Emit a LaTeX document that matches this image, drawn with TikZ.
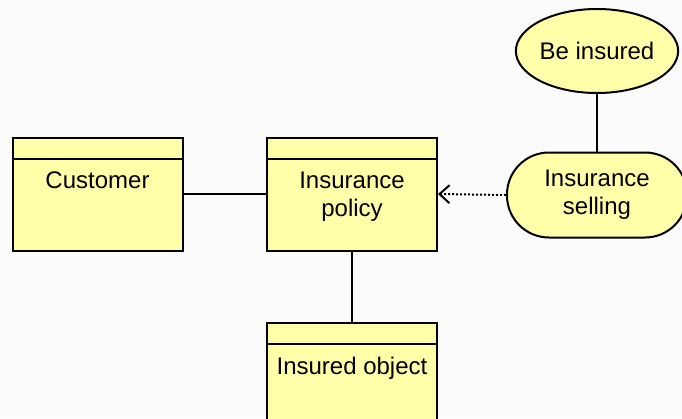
\documentclass[tikz,border=0pt]{standalone}
\usepackage{fontspec}
\setmainfont{Liberation Sans}
\usetikzlibrary{arrows.meta,calc,shapes.geometric}
\definecolor{bgc}{RGB}{251,251,251}
\definecolor{boxfill}{RGB}{255,255,170}
\tikzset{
  entity/.style={draw=black, line width=2pt, fill=boxfill, rectangle, minimum width=170pt, minimum height=113pt, inner sep=0pt},
  txt/.style={font=\fontsize{24}{28}\selectfont, align=center, inner sep=0pt},
  usecase/.style={draw=black, line width=2pt, fill=boxfill, ellipse, minimum width=148pt, minimum height=84pt, inner sep=0pt, font=\fontsize{24}{28}\selectfont},
  process/.style={draw=black, line width=2pt, fill=boxfill, rectangle, rounded corners=42pt, minimum width=180pt, minimum height=85pt, inner sep=0pt, align=center, font=\fontsize{24}{28}\selectfont},
  conn/.style={draw=black, line width=2pt},
  dep/.style={draw=black, line width=2pt, dotted, -{Straight Barb[length=10pt,width=18pt,line width=2pt]}}
}
\begin{document}
\begin{tikzpicture}[x=1pt,y=-1pt]
\useasboundingbox (0,0) rectangle (682,418);
\fill[bgc] (0,0) rectangle (682,418);
\clip (0,0) rectangle (682,418);
% entities
\node[entity] (cust) at (97.5,194) {};
\node[entity] (pol) at (352,194) {};
\node[entity] (obj) at (352,379) {};
\foreach \n in {cust,pol,obj}{
  \draw[line width=2pt] ($(\n.north west)+(0,22)$) -- ($(\n.north east)+(0,22)$);
}
\node[txt, anchor=north] (custt) at ($(cust.north)+(0,35)$) {Customer};
\node[txt, anchor=north] (polt) at ($(pol.north)+(0,35)$) {Insurance\\policy};
\node[txt, anchor=north] (objt) at ($(obj.north)+(0,35)$) {Insured object};
% use case and process
\node[usecase] (ins) at (597,51) {Be insured};
\node[process] (sell) at (597,195) {Insurance\\selling};
% connectors
\draw[conn] (cust.east) -- (pol.west);
\draw[conn] (pol.south) -- (obj.north);
\draw[conn] (ins.south) -- (sell.north);
\draw[dep] (sell.west) -- (pol.east);
\end{tikzpicture}
\end{document}
